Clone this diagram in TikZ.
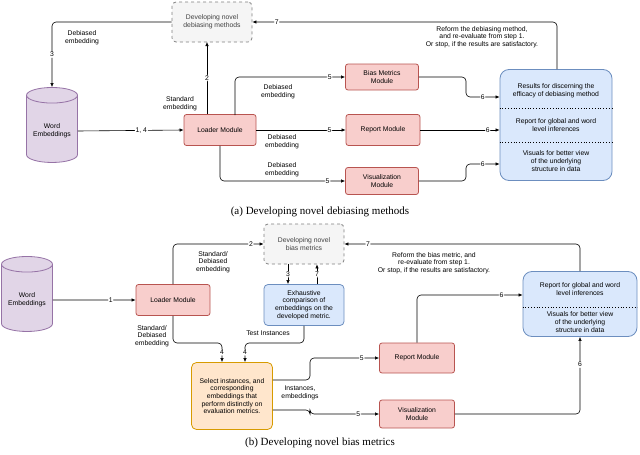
\documentclass[tikz,border=0pt]{standalone}
\usepackage{fontspec}
\setmainfont{Liberation Serif}
\newfontfamily\diagfont{Liberation Sans}
\usetikzlibrary{arrows.meta, shapes.geometric}
\definecolor{redfill}{HTML}{F8CECC}
\definecolor{reddraw}{HTML}{B85450}
\definecolor{bluefill}{HTML}{DAE8FC}
\definecolor{bluedraw}{HTML}{6C8EBF}
\definecolor{orfill}{HTML}{FFE6CC}
\definecolor{ordraw}{HTML}{D79B00}
\definecolor{purfill}{HTML}{E1D5E7}
\definecolor{purdraw}{HTML}{9673A6}
\begin{document}
\begin{tikzpicture}[
	  x=1pt, y=-1pt,
	  font=\diagfont\fontsize{6.8}{7.6}\selectfont,
	  module/.style={draw=reddraw, fill=redfill, thick, rounded corners=2.5pt, align=center, inner sep=1pt},
	  result/.style={draw=bluedraw, fill=bluefill, thick, rounded corners=9pt},
	  dev/.style={draw=gray, fill=gray!8, dashed, thick, rounded corners=4pt, align=center, text=darkgray, minimum width=80pt, minimum height=40pt},
	  db/.style={cylinder, shape border rotate=90, aspect=0.35, draw=purdraw, fill=purfill, thick, align=center, minimum width=51pt, minimum height=75pt},
	  arrow/.style={-{Latex[length=4pt,width=3.5pt]}, line width=0.6pt, rounded corners=4pt},
	  num/.style={fill=white, inner sep=0.8pt},
	  caption/.style={font=\fontsize{11}{13}\selectfont}
	]
	\useasboundingbox (0,0) rectangle (640,455);
	
	% (a) debiasing methods
	\node[dev] (deva) at (212,22) {Developing novel\\debiasing methods};
	\node[db] (weA) at (52,131) {Word\\Embeddings};
	\node[module, minimum width=72pt, minimum height=31pt] (loadA) at (220,130) {Loader Module};
	\node[module, minimum width=73pt, minimum height=26pt] (biasA) at (382,77) {Bias Metrics\\Module};
	\node[module, minimum width=74pt, minimum height=31pt] (repA) at (383,130) {Report Module};
	\node[module, minimum width=73pt, minimum height=27pt] (visA) at (382,181) {Visualization\\Module};
	\node[result, minimum width=112pt, minimum height=111pt] (resA) at (556,125) {};
	\draw[dotted, thick] (resA.west |- 0,108) -- (resA.east |- 0,108);
	\draw[dotted, thick] (resA.west |- 0,142) -- (resA.east |- 0,142);
	\node[align=center] at (556,91) {Results for discerning the\\efficacy of debiasing method};
	\node[align=center] at (556,125) {Report for global and word\\level inferences};
	\node[align=center] at (556,161) {Visuals for better view\\of the underlying\\structure in data};
	
	\draw[arrow] (weA.east) -- node[num, pos=0.6]{1, 4} (loadA.west);
	\draw[arrow] (loadA.north -| 207,0) -- node[num]{2} (207,42);
	\node[align=center] at (180,104) {Standard\\embedding};
	\draw[arrow] (deva.west) -| node[num, pos=0.75]{3} (weA.north);
	\node[align=center] at (82,38) {Debiased\\embedding};
	\draw[arrow] (235,115) |- node[num, pos=0.93]{5} (biasA.west);
	\node[align=center] at (278,92) {Debiased\\embedding};
	\draw[arrow] (loadA.east) -- node[num, pos=0.82]{5} (repA.west);
	\node[align=center] at (282,142) {Debiased\\embedding};
	\draw[arrow] (loadA.south) |- node[num, pos=0.93]{5} (visA.west);
	\node[align=center] at (282,170) {Debiased\\embedding};
	\draw[arrow] (biasA.east) -| (466,97) -- node[num]{6} (resA.west |- 0,97);
	\draw[arrow] (repA.east) -- node[num, pos=0.85]{6} (resA.west |- repA.east);
	\draw[arrow] (visA.east) -| (466,164) -- node[num]{6} (resA.west |- 0,164);
	\coordinate (backA) at (557,22);
	\draw[arrow] (resA.north -| backA) -- (backA) -- node[num, pos=0.92]{7} (deva.east);
	\node[align=center] at (482,37) {Reform the debiasing method,\\and re-evaluate from step 1.\\Or stop, if the results are satisfactory.};
	\node[caption] at (320,212) {(a) Developing novel debiasing methods};
	
	% (b) bias metrics
	\node[dev] (devb) at (304,244) {Developing novel\\bias metrics};
	\node[db] (weB) at (27,300) {Word\\Embeddings};
	\node[module, minimum width=74pt, minimum height=31pt] (loadB) at (173,300) {Loader Module};
	\node[draw=bluedraw, fill=bluefill, thick, rounded corners=4pt, align=center, minimum width=80pt, minimum height=41pt, inner sep=1pt] (exh) at (304,305) {Exhaustive\\comparison of\\embeddings on the\\developed metric.};
	\node[draw=ordraw, fill=orfill, thick, rounded corners=5pt, align=center, minimum width=81pt, minimum height=67pt, inner sep=1pt] (sel) at (232,396) {Select instances, and\\corresponding\\embeddings that\\perform distinctly  on\\evaluation metrics.};
	\node[module, minimum width=75pt, minimum height=30pt] (repB) at (417,358) {Report Module};
	\node[module, minimum width=75pt, minimum height=28pt] (visB) at (417,414) {Visualization\\Module};
	\node[result, minimum width=114pt, minimum height=65pt] (resB) at (580,304) {};
	\draw[dotted, thick] (resB.west |- 0,307) -- (resB.east |- 0,307);
	\node[align=center] at (580,289) {Report for global and word\\level inferences};
	\node[align=center] at (580,322) {Visuals for better view\\of the underlying\\structure in data};
	
	\draw[arrow] (weB.east) -- node[num, pos=0.7]{1} (loadB.west);
	\draw[arrow] (loadB.north) |- node[num, pos=0.93]{2} (devb.west);
	\node[align=center] at (213,262) {Standard/\\Debiased\\embedding};
	\draw[arrow] (loadB.south) |- (222,343) -- node[num]{4} (sel.north -| 222,0);
	\node[align=center] at (152,336) {Standard/\\Debiased\\embedding};
	\draw[arrow] (devb.south -| 288,0) -- node[num]{3} (exh.north -| 288,0);
	\draw[arrow] (exh.north -| 317,0) -- node[num]{7} (devb.south -| 317,0);
	\draw[arrow] (exh.south) |- (245,343) -- node[num]{4} (sel.north -| 245,0);
	\node at (268,333) {Test Instances};
	\draw[arrow] (sel.east |- 0,380) -| (310,358) -- node[num, pos=0.75]{5} (repB.west);
	\draw[arrow] (sel.east |- 0,410) -- (310,410) |- node[num, pos=0.85]{5} (visB.west);
	\node[align=center] at (300,393) {Instances,\\embeddings};
	\draw[arrow] (repB.north) |- node[num, pos=0.9]{6} (resB.west |- 0,295);
	\draw[arrow] (visB.east) -| node[num, pos=0.82]{6} (resB.south);
	\coordinate (backB) at (580,244);
	\draw[arrow] (resB.north) -- (backB) -- node[num, pos=0.9]{7} (devb.east);
	\node[align=center] at (434,263) {Reform the bias metric, and\\re-evaluate from step 1.\\Or stop, if the results are satisfactory.};
	\node[caption] at (320,443) {(b) Developing novel bias metrics};
	
	\end{tikzpicture}
\end{document}
